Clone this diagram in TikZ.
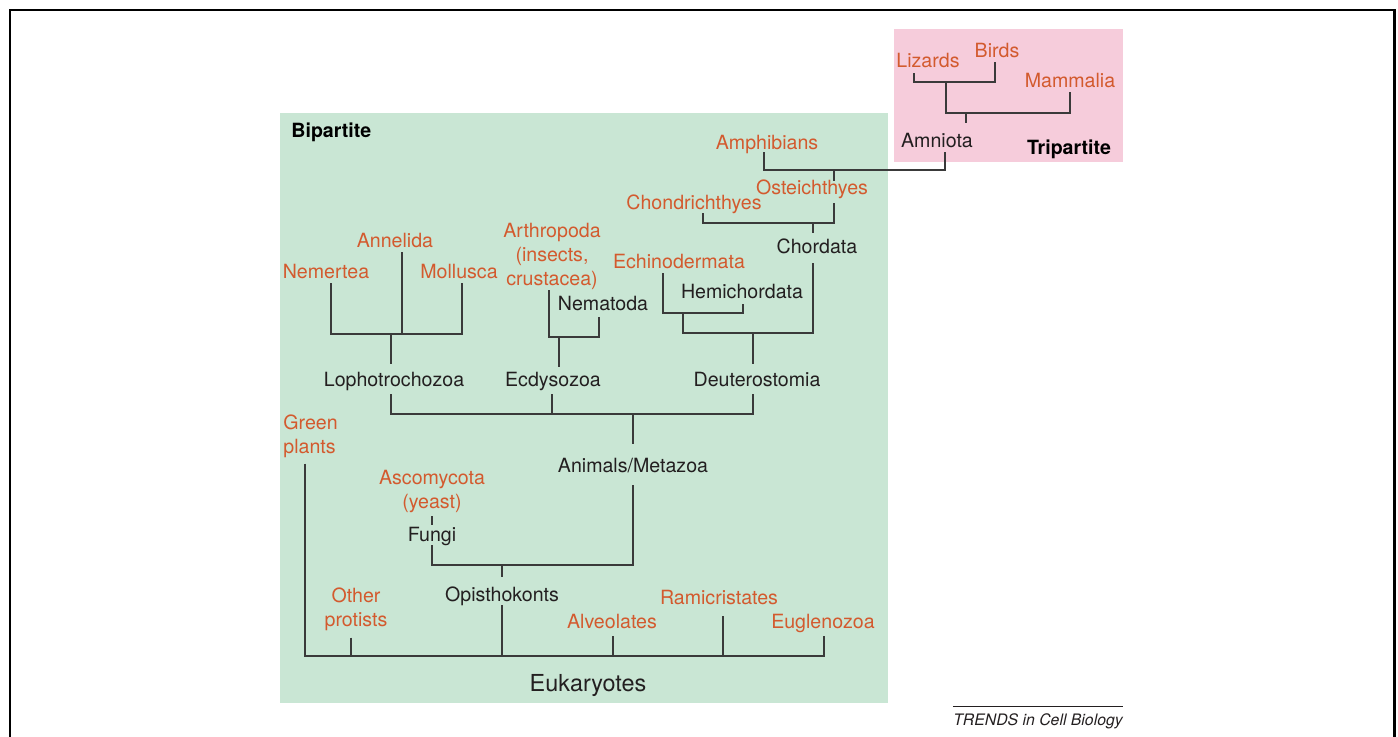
\documentclass[tikz,border=0pt]{standalone}
\usepackage{fontspec}
\setmainfont{TeX Gyre Heros}
\usetikzlibrary{calc}
\tikzset{
  taxon/.style={font=\fontsize{9.8}{12}\selectfont, text height=7pt, text depth=2pt, inner sep=0pt, anchor=base},
  clade/.style={taxon, text=cladecol},
  group/.style={taxon, text=groupcol},
  multi/.style={font=\fontsize{9.8}{12}\selectfont, inner sep=0pt, anchor=north, align=center, text=cladecol},
  branch/.style={draw=linecol, line width=0.75pt},
}

\begin{document}
\begin{tikzpicture}[x=0.5pt, y=-0.5pt]
  % Bounding box in pixels of the original figure.
  \path[use as bounding box] (0,0) rectangle (1398,737);

  % Colours of the figure.
  \definecolor{bipcol}{HTML}{C9E6D4}
  \definecolor{tripcol}{HTML}{F6CCDB}
  \definecolor{cladecol}{HTML}{D35A2E}
  \definecolor{groupcol}{HTML}{231F20}
  \definecolor{linecol}{HTML}{3A3A3A}

  % Frame and the two shaded boxes.
  \draw[line width=1.25pt] (10,737) -- (10,10) -- (1394.5,10) -- (1394.5,737);
  \fill[bipcol] (280,113) rectangle (888,703);
  \fill[tripcol] (894,29) rectangle (1123,162);

  % Tripartite box.
  \node[clade] (lizards) at (928,68) {Lizards};
  \node[clade] (birds) at (997,58) {Birds};
  \node[clade] (mammalia) at (1070,88) {Mammalia};
  \node[group] (amniota) at (937,148) {Amniota};
  \node[taxon, font=\fontsize{9.8}{12}\selectfont\bfseries] (tripartite) at (1069,155) {Tripartite};

  % Bipartite box.
  \node[taxon, anchor=base west, font=\fontsize{9.8}{12}\selectfont\bfseries] (bipartite) at (291,138) {Bipartite};
  \node[clade] (amphibians) at (767,150) {Amphibians};
  \node[clade] (osteich) at (812,195) {Osteichthyes};
  \node[clade] (chondri) at (694,210) {Chondrichthyes};
  \node[group] (chordata) at (817,254) {Chordata};
  \node[clade] (echino) at (679,269) {Echinodermata};
  \node[group] (hemi) at (742,299) {Hemichordata};
  \node[clade] (annelida) at (395,248) {Annelida};
  \node[clade] (nemertea) at (326,279) {Nemertea};
  \node[clade] (mollusca) at (459,279) {Mollusca};
  \node[multi] (arthro) at (552,223) {Arthropoda\\(insects,\\crustacea)};
  \node[group] (nematoda) at (603,311) {Nematoda};
  \node[group] (lopho) at (394,387) {Lophotrochozoa};
  \node[group] (ecdy) at (553,387) {Ecdysozoa};
  \node[group] (deutero) at (757,387) {Deuterostomia};
  \node[group] (animals) at (633,473) {Animals/Metazoa};
  \node[multi] (asco) at (432,470) {Ascomycota\\(yeast)};
  \node[group] (fungi) at (432,541) {Fungi};
  \node[group] (opistho) at (502,601) {Opisthokonts};
  \node[multi, anchor=north west, align=left] (green) at (283,414) {Green\\plants};
  \node[multi] (other) at (356,587) {Other\\protists};
  \node[clade] (alveo) at (612,628) {Alveolates};
  \node[clade] (ramic) at (719,604) {Ramicristates};
  \node[clade] (euglen) at (823,628) {Euglenozoa};
  \node[anchor=base, inner sep=0pt, text=groupcol, font=\fontsize{11.7}{14}\selectfont] (eukaryotes) at (588,691) {Eukaryotes};

  % Amniota.
  \coordinate (lbJ) at (946,82);
  \coordinate (amnJ) at (966,113);
  \draw[branch] ($(lizards.south)+(-14,1)$) |- (lbJ) -| ($(birds.south)+(-2,0)$);
  \draw[branch] (lbJ) |- (amnJ) -| (mammalia.south);
  \draw[branch, shorten >=5.5pt] (amnJ) -- (amnJ |- amniota.north);

  % Fishes, amphibians and Chordata.
  \coordinate (ostJ) at (834,170);
  \coordinate (chordJ) at (813,223);
  \draw[branch] ($(amniota.south)+(8,0)$) |- (ostJ) -| ($(amphibians.south)+(-3,-2)$);
  \draw[branch] (ostJ) -- (ostJ |- osteich.north);
  \draw[branch] ($(osteich.south)+(22,4)$) |- (chordJ) -| ($(chondri.south)+(9,-1)$);
  \draw[branch, shorten >=3.5pt] (chordJ) -- (chordJ |- chordata.north);

  % Deuterostomia.
  \coordinate (echJ) at (683,313);
  \coordinate (deutJ) at (753,333);
  \draw[branch] ($(chordata.south)+(-4,5)$) |- (deutJ) -| (echJ);
  \draw[branch] ($(echino.south)+(-16,0)$) |- (echJ) -| ($(hemi.south)+(1,1)$);
  \draw[branch, shorten >=4.5pt] (deutJ) -- (deutJ |- deutero.north);

  % Lophotrochozoa.
  \coordinate (lophJ) at (391,334);
  \draw[branch] ($(nemertea.south)+(5,0)$) |- (lophJ) -| ($(mollusca.south)+(3,0)$);
  \draw[branch] ($(annelida.south)+(7,0)$) coordinate (annT) -- (annT |- lophJ);
  \draw[branch, shorten >=4.5pt] (lophJ) -- (lophJ |- lopho.north);

  % Ecdysozoa.
  \coordinate (ecdJ) at (559,337);
  \draw[branch] ($(arthro.south)+(-3,0)$) |- (ecdJ) -| ($(nematoda.south)+(-4,2)$);
  \draw[branch, shorten >=3pt] (ecdJ) -- (ecdJ |- ecdy.north);

  % Animals.
  \coordinate (animJ) at (633,414);
  \draw[branch] ($(lopho.south)+(-3,3)$) |- (animJ) -| ($(deutero.south)+(-4,3)$);
  \draw[branch] ($(ecdy.south)+(-1,3)$) coordinate (ecdB) -- (ecdB |- animJ);
  \draw[branch, shorten >=7.5pt] (animJ) -- (animJ |- animals.north);

  % Opisthokonts.
  \coordinate (opisJ) at (502,565);
  \draw[branch] ($(animals.south)+(0,8)$) |- (opisJ) -| (fungi.south);
  \draw[branch] ([yshift=-1.5pt]asco.south) -- ([yshift=1pt]fungi.north);
  \draw[branch, shorten >=5pt] (opisJ) -- (opisJ |- opistho.north);

  % Eukaryotes.
  \coordinate (eukJ) at (502,656);
  \draw[branch] ($(green.south west)+(22,6)$) |- (eukJ) -| ($(euglen.south)+(1,4)$);
  \draw[branch] ($(other.south)+(-5,7)$) coordinate (othB) -- (othB |- eukJ);
  \draw[branch] (opistho.south) -- (opistho.south |- eukJ);
  \draw[branch] ($(alveo.south)+(1,4)$) coordinate (alvB) -- (alvB |- eukJ);
  \draw[branch] ($(ramic.south)+(4,8)$) coordinate (ramB) -- (ramB |- eukJ);

  % Journal credit.
  \node[anchor=base, inner sep=0pt, text=groupcol, font=\fontsize{7.9}{9}\selectfont\itshape] (trends) at (1038,725) {TRENDS in Cell Biology};
  \draw[groupcol, line width=0.5pt] ([yshift=3pt]trends.north west) -- ([yshift=3pt]trends.north east);
\end{tikzpicture}
\end{document}
